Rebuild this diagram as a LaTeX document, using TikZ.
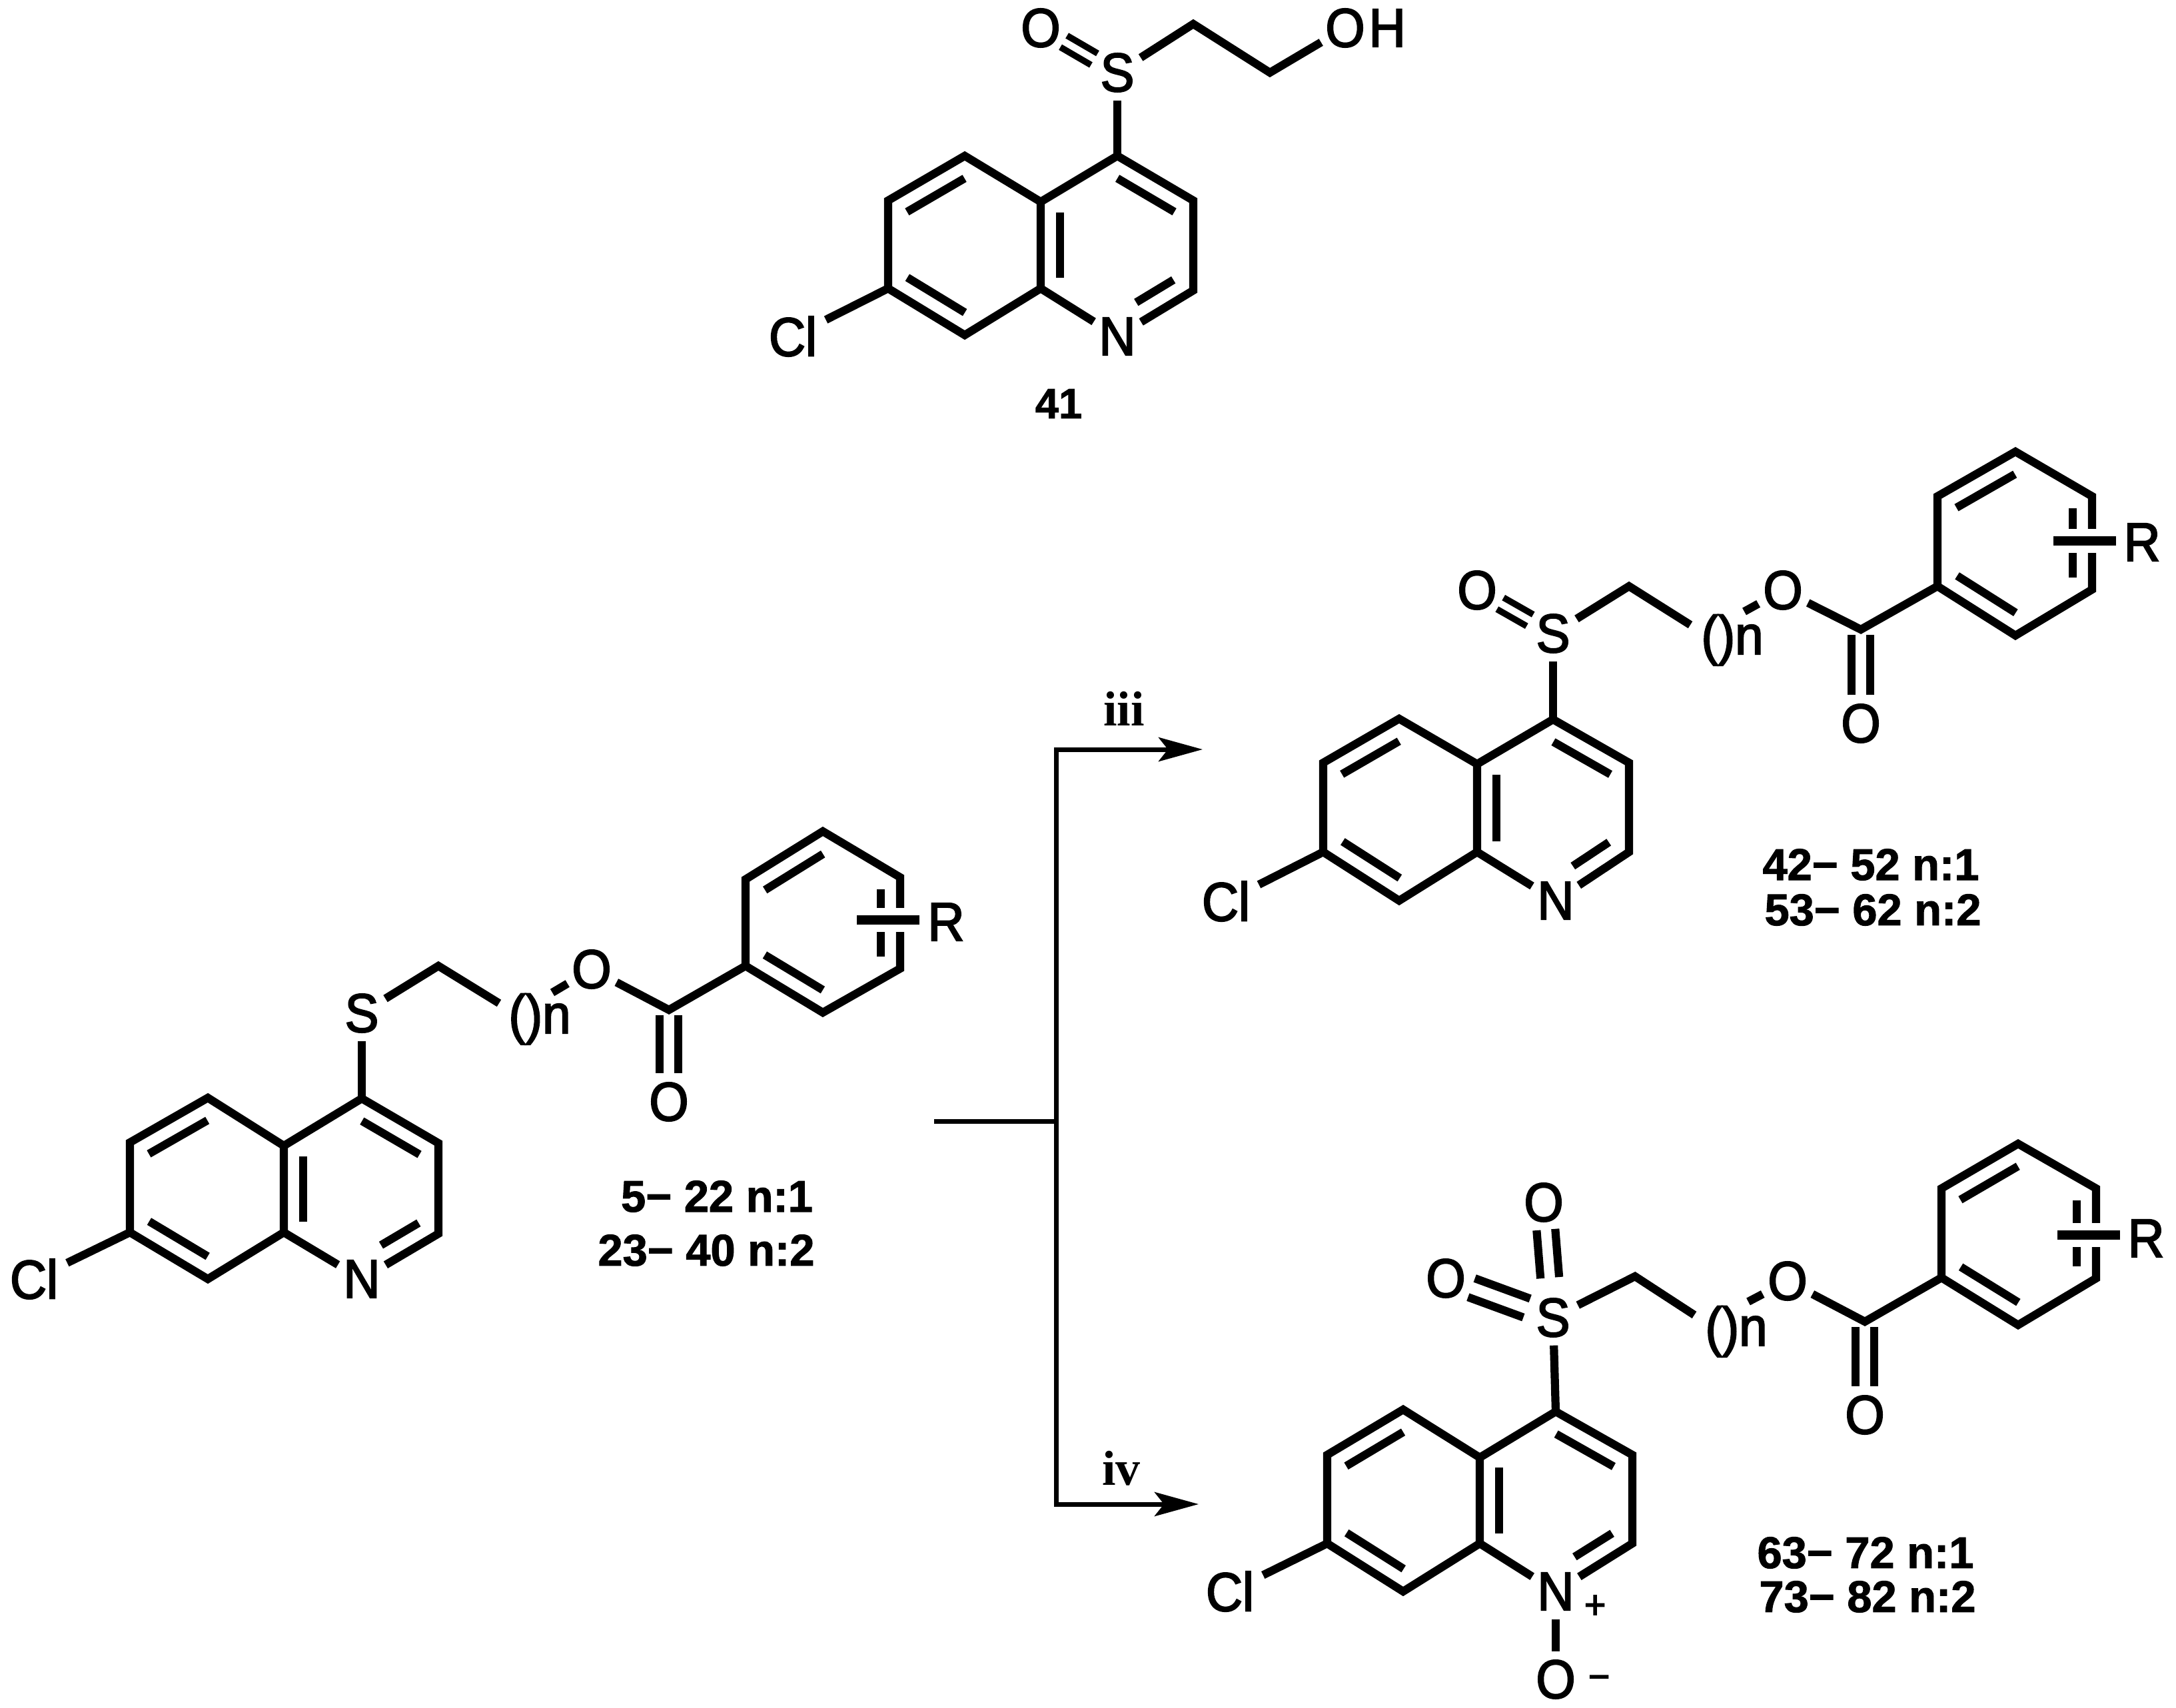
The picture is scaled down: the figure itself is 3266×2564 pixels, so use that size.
\documentclass[tikz,border=0pt]{standalone}
\usepackage{fontspec}
\setmainfont{Liberation Sans}
\newfontfamily\serifbf[BoldFont={Liberation Serif Bold}]{Liberation Serif}
\newfontfamily\atomfont[FakeBold=2.5,FakeStretch=.93]{Liberation Sans}
\newfontfamily\labfont[FakeBold=1.5]{Liberation Sans Bold}
\usetikzlibrary{calc,arrows.meta}
\tikzset{
  x=.01cm,y=-.01cm,
  bond/.style={line width=.122cm,line join=miter,miter limit=10},
  thinbond/.style={line width=.095cm},
  atom/.style={circle,inner sep=0pt,minimum size=.82cm,font=\atomfont\fontsize{23.3}{28}\selectfont},
  rlabel/.style={rectangle,inner sep=0pt,font=\atomfont\fontsize{23.3}{28}\selectfont},
  ctext/.style={inner sep=0pt,font=\labfont\fontsize{19}{23}\selectfont},
  cond/.style={inner sep=0pt,font=\serifbf\bfseries\fontsize{21}{25}\selectfont},
  charge/.style={inner sep=0pt,font=\atomfont\fontsize{17}{20}\selectfont},
  paren/.style={inner sep=0pt,anchor=base,font=\atomfont\fontsize{23.3}{28}\selectfont},
  schemeline/.style={line width=.07cm},
  schemearrow/.style={line width=.07cm,-{Stealth[length=.66cm,width=.36cm,inset=.14cm]}},
}
% inner ring line, between fractions of a->b, on the right of the direction of travel
\newcommand{\inbond}[4]{\draw[bond] ($(#1.center)!#3!(#2.center)!.29cm!-90:(#2.center)$) -- ($(#1.center)!#4!(#2.center)!.29cm!-90:(#2.center)$);}
% a double bond between two atoms: a,b,shorten at a,shorten at b,half gap,style
\newcommand{\twin}[6]{%
  \draw[#6,shorten <=#3,shorten >=#4] ($(#1.center)!#5!90:(#2.center)$) -- ($(#2.center)!#5!-90:(#1.center)$);
  \draw[#6,shorten <=#3,shorten >=#4] ($(#1.center)!#5!-90:(#2.center)$) -- ($(#2.center)!#5!90:(#1.center)$);}
% quinoline skeleton from coordinates #1ul #1top #1a #1e #1bot #1ll #1c4 #1c3 #1c2 and node #1n
\newcommand{\quinoline}[1]{%
  \draw[bond] (#1a) -- (#1top) -- (#1ul) -- (#1ll) -- (#1bot) -- (#1e) -- cycle;
  \draw[bond] (#1a) -- (#1c4) -- (#1c3) -- (#1c2) -- (#1n);
  \draw[bond] (#1e) -- (#1n);
  \inbond{#1ul}{#1top}{.12}{.87}
  \inbond{#1bot}{#1ll}{.13}{.88}
  \inbond{#1c4}{#1c3}{.13}{.88}
  \inbond{#1c2}{#1n}{.13}{.62}
  \inbond{#1e}{#1a}{.12}{.88}
  \draw[bond,shorten >=.08cm] (#1ll) -- (#1cl);
}
% benzoate ring from #1p #1q #1r #1s #1t #1u, with the R bond #1rl--#1rr
\newcommand{\benzoate}[1]{%
  \draw[bond] (#1p) -- (#1q) -- (#1r) -- (#1s) -- (#1t) -- (#1u) -- cycle;
  \inbond{#1q}{#1r}{.12}{.87}
  \inbond{#1s}{#1t}{.13}{.87}
  \inbond{#1u}{#1p}{.13}{.88}
  \draw[white,line width=.36cm] (#1rl) -- (#1rr);
  \draw[line width=.14cm] (#1rl) -- (#1rr);
}
\begin{document}
\begin{tikzpicture}
\useasboundingbox (0,0) rectangle (3266,2564);
% ---------- compound 41
\coordinate (Aul) at (1333,301); \coordinate (Atop) at (1448,234); \coordinate (Aa) at (1562,303);
\coordinate (Ae) at (1562,433); \coordinate (Abot) at (1448,503); \coordinate (All) at (1333,433);
\coordinate (Ac4) at (1677,234); \coordinate (Ac3) at (1791,301); \coordinate (Ac2) at (1791,436);
\coordinate (Ac5) at (1791,36); \coordinate (Ac6) at (1906,109);
\node[atom] (An) at (1677,505) {N};
\node[atom] (Acl) at (1190,505) {Cl};
\node[atom] (As) at (1677,109) {S};
\node[atom] (Ao) at (1562,42) {O};
\node[atom] (Aoh) at (2019,42) {O};
\node[rlabel,anchor=west] (Ah) at (2054,42) {H};
\node[ctext,font=\labfont\fontsize{18}{22}\selectfont] (Alab) at (1589,606) {41};
\quinoline{A}
\draw[bond] (Ac4) -- (As);
\draw[bond] (As) -- (Ac5) -- (Ac6) -- (Aoh);
\twin{As}{Ao}{.4cm}{.4cm}{.1cm}{thinbond}
% ---------- starting material 5-40
\coordinate (Bul) at (195,1715); \coordinate (Btop) at (312,1648); \coordinate (Ba) at (426,1720);
\coordinate (Be) at (426,1850); \coordinate (Bbot) at (312,1920); \coordinate (Bll) at (195,1850);
\coordinate (Bc4) at (543,1649); \coordinate (Bc3) at (658,1716); \coordinate (Bc2) at (658,1852);
\coordinate (Bch) at (658,1450); \coordinate (Bend) at (749,1506); \coordinate (Bstub) at (829,1490);
\coordinate (Bco) at (1004,1516);
\coordinate (Bp) at (1119,1450); \coordinate (Bq) at (1119,1320); \coordinate (Br) at (1235,1248);
\coordinate (Bs) at (1351,1317); \coordinate (Bt) at (1351,1454); \coordinate (Bu) at (1235,1520);
\coordinate (Brl) at (1286,1381); \coordinate (Brr) at (1380,1381);
\node[atom] (Bn) at (543,1920) {N};
\node[atom] (Bcl) at (51,1920) {Cl};
\node[atom] (Bsu) at (543,1521) {S};
\node[paren] (Bpar) at (810,1551) {()n};
\node[atom] (Bo) at (888,1455) {O};
\node[atom] (Bod) at (1004,1654) {O};
\node[rlabel] (BR) at (1420,1384) {R};
\quinoline{B}
\draw[bond] (Bc4) -- (Bsu);
\draw[bond] (Bsu) -- (Bch) -- (Bend);
\draw[bond] (Bstub) -- (Bo);
\draw[bond] (Bo) -- (Bco) -- (Bp);
\twin{Bco}{Bod}{.08cm}{.43cm}{.14cm}{bond}
\benzoate{B}
\node[ctext] (Blab1) at (1076,1796) {5− 22 n:1};
\node[ctext] (Blab2) at (1060,1877) {23− 40 n:2};
% ---------- scheme lines
\coordinate (Sstart) at (1402,1683); \coordinate (Sjoin) at (1585,1683);
\coordinate (Stop) at (1585,1125); \coordinate (Sbot) at (1585,2258);
\coordinate (Stip1) at (1805,1125); \coordinate (Stip2) at (1799,2258);
\draw[schemeline] (Sstart) -- (Sjoin);
\draw[schemearrow] (Sjoin) -- (Stop) -- (Stip1);
\draw[schemearrow] (Sjoin) -- (Sbot) -- (Stip2);
\node[cond] (Ciii) at (1687,1064) {iii};
\node[cond] (Civ) at (1683,2204) {iv};
% ---------- sulfoxides 42-62
\coordinate (Cul) at (1986,1145); \coordinate (Ctop) at (2100,1079); \coordinate (Ca) at (2217,1147);
\coordinate (Ce) at (2217,1279); \coordinate (Cbot) at (2100,1352); \coordinate (Cll) at (1986,1279);
\coordinate (Cc4) at (2331,1080); \coordinate (Cc3) at (2445,1145); \coordinate (Cc2) at (2445,1279);
\coordinate (Cch) at (2445,880); \coordinate (Cend) at (2537,938); \coordinate (Cstub) at (2618,918);
\coordinate (Cco) at (2793,945);
\coordinate (Cp) at (2908,880); \coordinate (Cq) at (2908,745); \coordinate (Cr) at (3025,678);
\coordinate (Cs) at (3140,745); \coordinate (Ct) at (3140,885); \coordinate (Cu) at (3025,954);
\coordinate (Crl) at (3082,812); \coordinate (Crr) at (3176,812);
\node[atom] (Cn) at (2335,1352) {N};
\node[atom] (Ccl) at (1840,1353) {Cl};
\node[atom] (Csu) at (2331,951) {S};
\node[atom] (Csd) at (2217,886) {O};
\node[paren] (Cpar) at (2600,982) {()n};
\node[atom] (Co) at (2676,886) {O};
\node[atom] (Cod) at (2793,1086) {O};
\node[rlabel] (CR) at (3215,814) {R};
\quinoline{C}
\draw[bond] (Cc4) -- (Csu);
\draw[bond] (Csu) -- (Cch) -- (Cend);
\draw[bond] (Cstub) -- (Co);
\draw[bond] (Co) -- (Cco) -- (Cp);
\twin{Cco}{Cod}{.08cm}{.43cm}{.14cm}{bond}
\twin{Csu}{Csd}{.4cm}{.4cm}{.1cm}{thinbond}
\benzoate{C}
\node[ctext] (Clab1) at (2808,1298) {42− 52 n:1};
\node[ctext] (Clab2) at (2811,1366) {53− 62 n:2};
% ---------- sulfones 63-82
\coordinate (Dul) at (1992,2184); \coordinate (Dtop) at (2106,2116); \coordinate (Da) at (2221,2188);
\coordinate (De) at (2221,2317); \coordinate (Dbot) at (2106,2389); \coordinate (Dll) at (1992,2317);
\coordinate (Dc4) at (2335,2119); \coordinate (Dc3) at (2450,2184); \coordinate (Dc2) at (2450,2317);
\coordinate (Dch) at (2454,1916); \coordinate (Dend) at (2543,1974); \coordinate (Dstub) at (2624,1954);
\coordinate (Dco) at (2799,1984);
\coordinate (Dp) at (2914,1918); \coordinate (Dq) at (2914,1784); \coordinate (Dr) at (3029,1717);
\coordinate (Ds) at (3146,1784); \coordinate (Dt) at (3146,1919); \coordinate (Du) at (3029,1989);
\coordinate (Drl) at (3088,1854); \coordinate (Drr) at (3182,1854);
\node[atom] (Dn) at (2335,2389) {N};
\node[charge] (Dplus) at (2394,2412) {+};
\node[atom] (Dox) at (2335,2521) {O};
\node[charge] (Dminus) at (2400,2526) {−};
\node[atom] (Dcl) at (1846,2389) {Cl};
\node[atom] (Dsu) at (2331,1978) {S};
\node[atom] (Dsa) at (2317,1805) {O};
\node[atom] (Dsb) at (2170,1919) {O};
\node[paren] (Dpar) at (2606,2020) {()n};
\node[atom] (Do) at (2683,1923) {O};
\node[atom] (Dod) at (2799,2124) {O};
\node[rlabel] (DR) at (3221,1859) {R};
\quinoline{D}
\draw[bond] (Dc4) -- (Dsu);
\draw[bond] (Dn) -- (Dox);
\draw[bond] (Dsu) -- (Dch) -- (Dend);
\draw[bond] (Dstub) -- (Do);
\draw[bond] (Do) -- (Dco) -- (Dp);
\twin{Dco}{Dod}{.08cm}{.43cm}{.14cm}{bond}
\twin{Dsu}{Dsa}{.6cm}{.41cm}{.14cm}{bond}
\twin{Dsu}{Dsb}{.42cm}{.41cm}{.15cm}{bond}
\benzoate{D}
\node[ctext] (Dlab1) at (2800,2331) {63− 72 n:1};
\node[ctext] (Dlab2) at (2803,2397) {73− 82 n:2};
\end{tikzpicture}
\end{document}
